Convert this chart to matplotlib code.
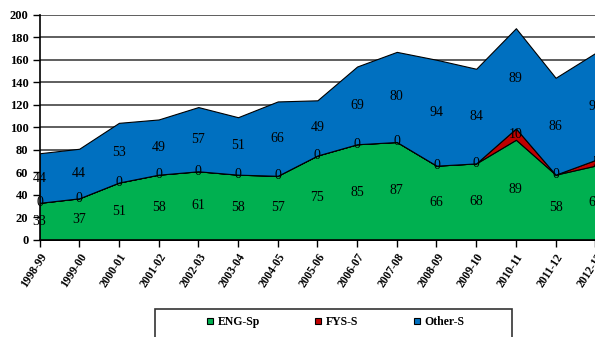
import matplotlib
matplotlib.use("Agg")
import matplotlib.pyplot as plt
from matplotlib.lines import Line2D
from matplotlib.patches import Rectangle
import numpy as np

years = ["1998-99", "1999-00", "2000-01", "2001-02", "2002-03", "2003-04",
         "2004-05", "2005-06", "2006-07", "2007-08", "2008-09", "2009-10",
         "2010-11", "2011-12", "2012-13"]
eng_sp = [33, 37, 51, 58, 61, 58, 57, 75, 85, 87, 66, 68, 89, 58, 66]
fys_s = [0, 0, 0, 0, 0, 0, 0, 0, 0, 0, 0, 0, 10, 0, 5]
other_s = [44, 44, 53, 49, 57, 51, 66, 49, 69, 80, 94, 84, 89, 86, 95]

series_names = ["ENG-Sp", "FYS-S", "Other-S"]
series_colors = ["#00B050", "#C00000", "#0070C0"]

serif = "Liberation Serif"

W, H = 595, 337
fig = plt.figure(figsize=(W / 100, H / 100), dpi=100)
ax = fig.add_axes([39.5 / W, (H - 240) / H, (595.3 - 39.5) / W, (240 - 14.7) / H])

x = np.arange(len(years))
data = [eng_sp, fys_s, other_s]
ax.stackplot(x, *data, colors=series_colors, edgecolor="black", linewidth=0.8,
             zorder=2)

ax.set_xlim(0, len(years) - 1)
ax.set_ylim(0, 200)
ax.set_axisbelow(True)
ax.yaxis.grid(True, color="#333333", linewidth=1.1)
ax.xaxis.grid(False)

ax.set_yticks(np.arange(0, 201, 20))
ax.set_yticklabels([str(v) for v in range(0, 201, 20)], fontfamily=serif,
                   fontweight="bold", fontsize=9)
ax.set_xticks(x)
ax.set_xticklabels(years, rotation=57, ha="right", rotation_mode="anchor",
                   fontfamily=serif, fontweight="bold", fontsize=8.3)
ax.tick_params(axis="y", length=5, width=1, pad=3, colors="black")
ax.tick_params(axis="x", length=5, width=1, pad=3, colors="black")

for s in ["top", "right"]:
    ax.spines[s].set_visible(False)
for s in ["left", "bottom"]:
    ax.spines[s].set_color("black")
    ax.spines[s].set_linewidth(1.2)
    ax.spines[s].set_zorder(3)

# value labels centred within each stacked band
base = np.zeros(len(years))
for vals in data:
    vals = np.array(vals, dtype=float)
    for xi, b, v in zip(x, base, vals):
        ax.text(xi, b + v / 2, f"{int(v)}", ha="center", va="center",
                fontfamily=serif, fontsize=10, color="black", zorder=4,
                clip_on=False)
    base = base + vals

# legend
handles = [Line2D([], [], linestyle="none", marker="s", markersize=5,
                  markerfacecolor=c, markeredgecolor="black",
                  markeredgewidth=0.8) for c in series_colors]
fig.legend(handles, series_names, loc="center",
           bbox_to_anchor=(335 / W, (H - 321.7) / H), ncol=3, frameon=False,
           prop={"family": serif, "weight": "bold", "size": 8.5},
           handlelength=0.7, handletextpad=0.3, columnspacing=4.6,
           borderpad=0.2)
fig.patches.append(Rectangle((155 / W, -0.1), (512 - 155) / W,
                             0.1 + (H - 309) / H, transform=fig.transFigure,
                             fill=False, edgecolor="#333333", linewidth=1.2))

fig.savefig("out.png", dpi=100)
